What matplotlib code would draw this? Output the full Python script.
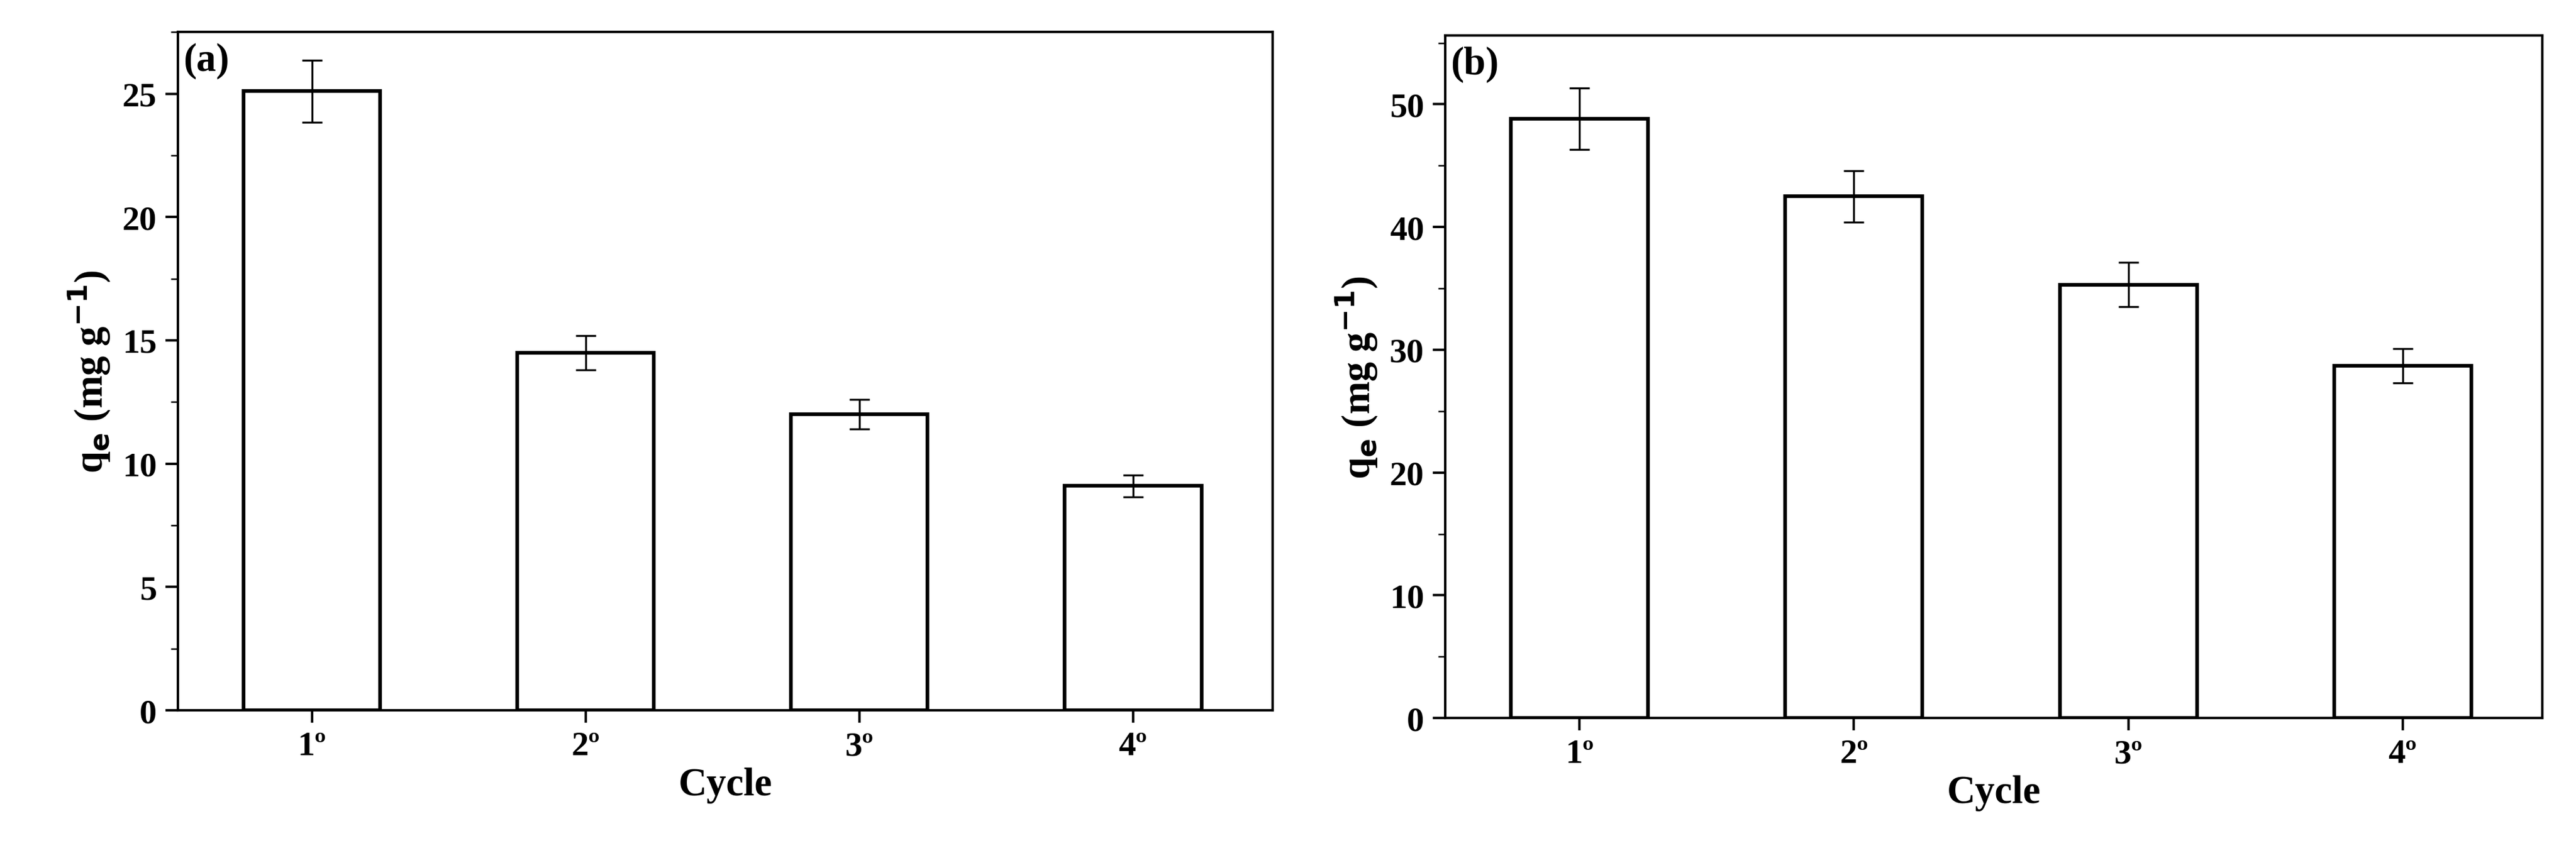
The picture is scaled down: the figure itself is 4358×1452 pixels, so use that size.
import matplotlib
matplotlib.use('Agg')
import matplotlib.pyplot as plt
from matplotlib.ticker import MultipleLocator

plt.rcParams['font.family'] = ['Liberation Serif', 'DejaVu Serif']
plt.rcParams['font.weight'] = 'bold'
plt.rcParams['axes.unicode_minus'] = False

cycles = ['1º', '2º', '3º', '4º']
qe_a = [25.1, 14.5, 12.0, 9.1]
err_a = [1.25, 0.7, 0.6, 0.45]
qe_b = [48.8, 42.5, 35.3, 28.7]
err_b = [2.5, 2.1, 1.8, 1.4]

fig = plt.figure(figsize=(14.527, 4.843), dpi=300)
ax1 = fig.add_axes([0.069, 0.172, 0.425, 0.790])
ax2 = fig.add_axes([0.561, 0.163, 0.426, 0.795])

x = range(1, len(cycles) + 1)
for ax, vals, errs, ymax, major, minor, lab in [
        (ax1, qe_a, err_a, 27.5, 5, 2.5, '(a)'),
        (ax2, qe_b, err_b, 55.6, 10, 5, '(b)')]:
    ax.bar(x, vals, width=0.5, color='white', edgecolor='black', linewidth=1.5)
    ax.errorbar(x, vals, yerr=errs, fmt='none', ecolor='black', elinewidth=0.8,
                capsize=4, capthick=0.8)
    ax.set_xlim(0.51, 4.51)
    ax.set_ylim(0, ymax)
    ax.set_xticks(list(x))
    ax.set_xticklabels(cycles)
    ax.yaxis.set_major_locator(MultipleLocator(major))
    ax.yaxis.set_minor_locator(MultipleLocator(minor))
    ax.tick_params(direction='out', labelsize=14, width=1, length=5)
    ax.tick_params(which='minor', direction='out', length=3)
    for t in ax.get_xticklabels() + ax.get_yticklabels():
        t.set_fontweight('bold')
    for s in ax.spines.values():
        s.set_linewidth(1)
    ax.set_xlabel('Cycle', fontsize=16, fontweight='bold', labelpad=2)
    ax.set_ylabel(r'q$_\mathbf{e}$ (mg g$^\mathbf{-1}$)', fontsize=16, fontweight='bold')
    ax.text(0.005, 0.985, lab, transform=ax.transAxes, fontsize=16,
            fontweight='bold', va='top', ha='left')

fig.savefig('out.png', dpi=300)
